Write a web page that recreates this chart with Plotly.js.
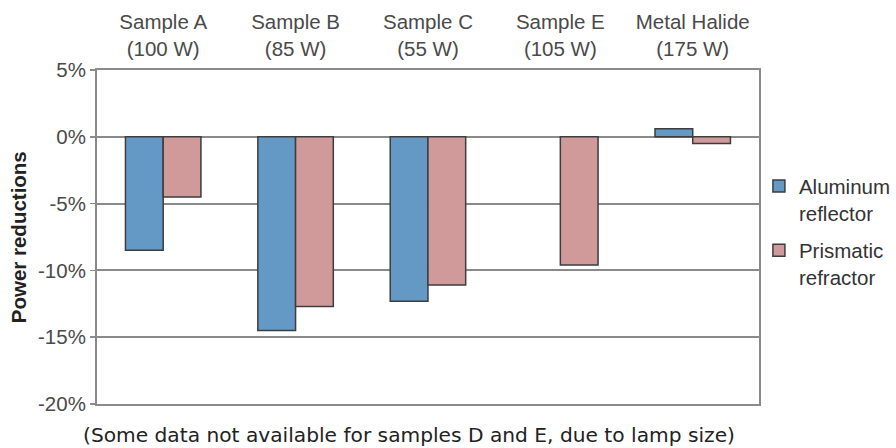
<!DOCTYPE html>
<html>
<head>
<meta charset="utf-8">
<script src="https://cdn.plot.ly/plotly-3.0.1.min.js"></script>
<style>
  html, body { margin: 0; padding: 0; background: #ffffff; }
  #chart { width: 896px; height: 448px; }
</style>
</head>
<body>
<div id="chart"></div>
<script>
// Lamp samples (Sample D omitted: no data for it)
const categories = ['Sample A<br>(100 W)', 'Sample B<br>(85 W)', 'Sample C<br>(55 W)', 'Sample E<br>(105 W)', 'Metal Halide<br>(175 W)'];

// Power reduction, percent
const aluminumReflector = [-8.5, -14.5, -12.3, null, 0.6];
const prismaticRefractor = [-4.5, -12.7, -11.1, -9.6, -0.5];

const seriesNames = ['Aluminum<br>reflector', 'Prismatic<br>refractor'];

const yTickValues = [5, 0, -5, -10, -15, -20];
const yTickLabels = ['5%', '0%', '-5%', '-10%', '-15%', '-20%'];

const footnote = '(Some data not available for samples D and E, due to lamp size)';
const yTitle = 'Power reductions';

const gridColor = '#8a8a8a';
const textFont = 'Liberation Sans, Arial, sans-serif';

const traces = [
  {
    type: 'bar',
    name: seriesNames[0],
    legendgroup: 'aluminum',
    x: categories,
    y: aluminumReflector,
    marker: { color: '#6499c6', line: { color: '#3d3d3d', width: 1.5 } },
    hoverinfo: 'skip'
  },
  {
    type: 'bar',
    name: seriesNames[1],
    legendgroup: 'prismatic',
    x: categories,
    y: prismaticRefractor,
    marker: { color: '#d09a9b', line: { color: '#3d3d3d', width: 1.5 } },
    hoverinfo: 'skip'
  }
];

const layout = {
  width: 896,
  height: 448,
  margin: { l: 97, r: 135, t: 70, b: 44 },
  paper_bgcolor: '#ffffff',
  plot_bgcolor: '#ffffff',
  barmode: 'group',
  bargap: 0.43,
  bargroupgap: 0,
  showlegend: true,
  font: { family: textFont, size: 20.5, color: '#4a4a4a' },
  xaxis: {
    type: 'category',
    side: 'top',
    showgrid: false,
    zeroline: false,
    showline: true,
    mirror: true,
    linecolor: gridColor,
    linewidth: 2,
    ticks: '',
    ticklabelstandoff: 4,
    tickfont: { family: textFont, size: 20.5, color: '#4a4a4a' },
    automargin: false
  },
  yaxis: {
    range: [-20, 5],
    tickvals: yTickValues,
    ticktext: yTickLabels,
    showgrid: true,
    gridcolor: gridColor,
    gridwidth: 2,
    zeroline: true,
    zerolinecolor: gridColor,
    zerolinewidth: 2,
    showline: true,
    mirror: true,
    linecolor: gridColor,
    linewidth: 2,
    ticks: 'outside',
    ticklen: 5,
    tickwidth: 1.5,
    tickcolor: gridColor,
    tickfont: { family: textFont, size: 20.5, color: '#4a4a4a' },
    automargin: false,
    fixedrange: true
  },
  legend: {
    xref: 'container',
    yref: 'container',
    x: 0.847,
    xanchor: 'left',
    y: 0.629,
    yanchor: 'top',
    valign: 'top',
    traceorder: 'grouped',
    tracegroupgap: 8,
    bgcolor: 'rgba(0,0,0,0)',
    borderwidth: 0,
    font: { family: textFont, size: 20.5, color: '#333333' }
  },
  annotations: [
    {
      text: yTitle,
      xref: 'paper', yref: 'paper',
      x: -0.119, y: 0.5,
      xanchor: 'center', yanchor: 'middle',
      textangle: -90,
      showarrow: false,
      font: { family: textFont, size: 20.5, color: '#222222', weight: 'bold' }
    },
    {
      text: footnote,
      xref: 'paper', yref: 'paper',
      x: 0.471, y: -0.094,
      xanchor: 'center', yanchor: 'middle',
      showarrow: false,
      font: { family: 'DejaVu Sans, Verdana, sans-serif', size: 20.2, color: '#222222' }
    }
  ]
};

Plotly.newPlot('chart', traces, layout, { staticPlot: true, displayModeBar: false });
</script>
</body>
</html>
